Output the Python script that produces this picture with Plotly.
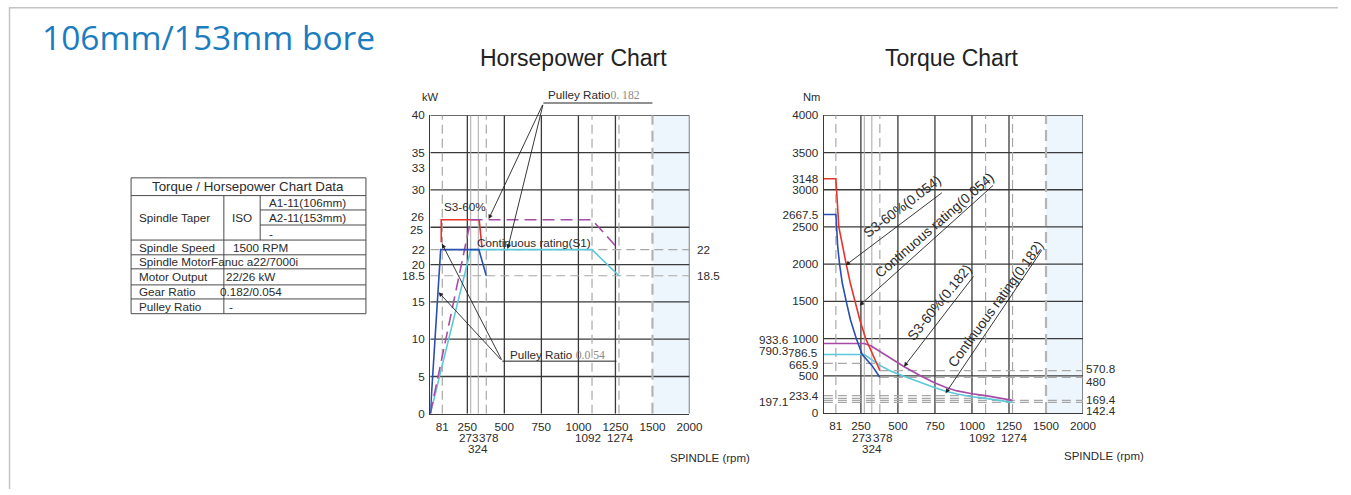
import plotly.graph_objects as go

# Figure fills the window; the page margin is removed after drawing.
FW, FH = 1351, 495
# placement helpers: reference-pixel positions -> paper fractions
# (small calibration so that the photographed page lines up with the reference)
SX, SY, OYI = 0.9897, 0.9706, 7.0

# ---------------- data ----------------
X_TICKS = [81, 250, 500, 750, 1000, 1250, 1500, 1750]
X_TICKTEXT = ["81", "250", "500", "750", "1000", "1250", "1500", "2000"]
X_TICKS_ROW2 = [273, 378, 1092, 1274]
X_TICKS_ROW3 = [324]
X_GRID = [250, 500, 750, 1000, 1250, 1750]
X_REF_SOLID = [273, 324]
X_REF_DASH = [81, 378, 1092, 1274]
X_SHADE = [1500, 1750]
X_MAX = 1750

HP_Y_TICKS = [0, 5, 10, 15, 18.5, 20, 22, 25, 26, 30, 33, 35, 40]
HP_Y_SHIFTED = {25: -2, 26: 3}          # labels nudged apart (drawn as annotations)
HP_Y_GRID = [5, 10, 15, 20, 25, 30, 35, 40]
HP_Y_REF = [18.5, 22]
HP_RIGHT_LABELS = [22, 18.5]
HP_Y_MAX = 40

HP_S3_054_RPM = [74, 74, 330, 349]
HP_S3_054_KW = [23, 26, 26, 22.3]
HP_S1_054_RPM = [0, 70, 328, 378]
HP_S1_054_KW = [0, 22, 22, 18.5]
HP_S3_182_RPM = [0, 273, 1092, 1274]
HP_S3_182_KW = [0, 26, 26, 22]
HP_S1_182_RPM = [0, 273, 1092, 1274]
HP_S1_182_KW = [0, 22, 22, 18.5]

TQ_Y_TICKS = [0, 233.4, 500, 665.9, 786.5, 1000, 1500, 2000, 2500, 2667.5, 3000, 3148, 3500, 4000]
TQ_Y_SHIFTED = {786.5: 2, 665.9: -1}     # labels nudged apart (drawn as annotations)
TQ_Y_GRID = [500, 1000, 1500, 2000, 2500, 3000, 3500, 4000]
TQ_Y_MAX = 4000
TQ_LEFT_EXTRA = [933.6, 790.3, 197.1]
TQ_RIGHT_LABELS = [570.8, 480, 169.4, 142.4]
TQ_REF_VALUES = [665.9, 570.8, 480, 233.4, 197.1, 169.4, 142.4]
TQ_REF_FROM = [0, 378, 378, 0, 0, 0, 0]
TQ_REF_TO = [378, 1750, 1750, 1092, 1092, 1750, 1750]

TQ_S3_054_RPM = [0, 81, 101, 124, 151, 178, 209, 243, 282, 324, 378]
TQ_S3_054_NM = [3148, 3148, 2500, 2250, 2000, 1750, 1500, 1250, 1000, 810, 570.8]
TQ_S1_054_RPM = [0, 81, 86, 93, 106, 124, 151, 180, 219, 259, 324, 378]
TQ_S1_054_NM = [2667.5, 2667.5, 2500, 2250, 2000, 1750, 1500, 1250, 1000, 786.5, 640, 480]
TQ_S3_182_RPM = [0, 273, 320, 400, 484, 540, 640, 743, 829, 900, 1000, 1092, 1274]
TQ_S3_182_NM = [933.6, 933.6, 900, 800, 690, 625, 515, 410, 340, 297, 258, 233.4, 169.4]
TQ_S1_182_RPM = [0, 273, 378, 450, 540, 650, 750, 829, 900, 1000, 1092, 1274]
TQ_S1_182_NM = [786.5, 786.5, 640, 565, 495, 410, 340, 290, 255, 218, 197.1, 142.4]

TABLE_ROWS = [
    ("Spindle Speed", "1500 RPM"),
    ("Spindle MotorFanuc a22/7000i", ""),
    ("Motor Output", "22/26 kW"),
    ("Gear Ratio", "0.182/0.054"),
    ("Pulley Ratio", "-"),
]
TAPER_SUB = ["A1-11(106mm)", "A2-11(153mm)", "-"]

# ---------------- style ----------------
FONT = "Liberation Sans, Arial, sans-serif"
RED = "#e8332a"
BLUE = "#2a4fb0"
MAGENTA = "#a64ca6"
CYAN = "#5cc8d8"
GRID = "#3a3a3a"
REFG = "#a8a8a8"
TXT = "#2b2b2b"
FS = 11.7
ROW2_XSHIFT = [-2, 3, -4, 2]


def px(x):
    return (x / SX) / FW


def py(y):
    return 1 - ((y - OYI) / SY) / FH


def fmt(v):
    return str(int(v)) if float(v).is_integer() else str(v)


fig = go.Figure()


def add_line(x, y, color, xa, ya, dash=None, width=1.6):
    fig.add_trace(go.Scatter(x=x, y=y, mode="lines", xaxis=xa, yaxis=ya,
                             line=dict(color=color, width=width, dash=dash),
                             hoverinfo="skip", showlegend=False))

add_line(HP_S3_054_RPM, HP_S3_054_KW, RED, "x", "y")
add_line(HP_S1_182_RPM, HP_S1_182_KW, CYAN, "x", "y")
add_line(HP_S3_182_RPM, HP_S3_182_KW, MAGENTA, "x", "y", dash="12px,6px")
add_line(HP_S1_054_RPM, HP_S1_054_KW, BLUE, "x", "y")

add_line(TQ_S1_182_RPM, TQ_S1_182_NM, CYAN, "x2", "y2")
add_line(TQ_S3_182_RPM, TQ_S3_182_NM, MAGENTA, "x2", "y2")
add_line(TQ_S3_054_RPM, TQ_S3_054_NM, RED, "x2", "y2")
add_line(TQ_S1_054_RPM, TQ_S1_054_NM, BLUE, "x2", "y2")

shapes = []

# page frame
shapes.append(dict(type="line", xref="paper", yref="paper", x0=px(9), x1=1, y0=1 - 0.8 / FH, y1=1 - 0.8 / FH,
                   line=dict(color="#c4c4c4", width=1.5)))
shapes.append(dict(type="line", xref="paper", yref="paper", x0=px(9.5), x1=px(9.5), y0=1, y1=0,
                   line=dict(color="#c4c4c4", width=1.5)))


def chart_shapes(xr, yr, ygrid, ymax, yrefs):
    s = []
    s.append(dict(type="rect", xref=xr, yref=yr, x0=X_SHADE[0], x1=X_SHADE[1], y0=0, y1=ymax,
                  fillcolor="#eef6fd", line=dict(width=0), layer="below"))
    for v in ygrid:
        s.append(dict(type="line", xref=xr, yref=yr, x0=0, x1=X_MAX, y0=v, y1=v,
                      line=dict(color=GRID, width=1.3), layer="below"))
    for v in X_GRID:
        s.append(dict(type="line", xref=xr, yref=yr, x0=v, x1=v, y0=0, y1=ymax,
                      line=dict(color=GRID, width=1.3), layer="below"))
    for v in X_REF_SOLID:
        s.append(dict(type="line", xref=xr, yref=yr, x0=v, x1=v, y0=0, y1=ymax,
                      line=dict(color=REFG, width=1), layer="below"))
    for v in X_REF_DASH:
        s.append(dict(type="line", xref=xr, yref=yr, x0=v, x1=v, y0=0, y1=ymax,
                      line=dict(color=REFG, width=1.2, dash="9px,5px"), layer="below"))
    s.append(dict(type="line", xref=xr, yref=yr, x0=X_SHADE[0], x1=X_SHADE[0], y0=0, y1=ymax,
                  line=dict(color="#b4b4b4", width=2.2, dash="11px,6px"), layer="below"))
    for v, a, b in yrefs:
        s.append(dict(type="line", xref=xr, yref=yr, x0=a, x1=b, y0=v, y1=v,
                      line=dict(color=REFG, width=1.2, dash="9px,5px"), layer="below"))
    return s

shapes += chart_shapes("x", "y", HP_Y_GRID, HP_Y_MAX, [(v, 0, X_MAX) for v in HP_Y_REF])
shapes += chart_shapes("x2", "y2", TQ_Y_GRID, TQ_Y_MAX,
                       list(zip(TQ_REF_VALUES, TQ_REF_FROM, TQ_REF_TO)))

# pulley ratio underlines
shapes.append(dict(type="line", xref="paper", yref="paper", x0=px(543), x1=px(652), y0=py(102.7), y1=py(102.7),
                   line=dict(color="#222", width=1)))
shapes.append(dict(type="line", xref="paper", yref="paper", x0=px(502), x1=px(616), y0=py(360), y1=py(360),
                   line=dict(color="#222", width=1)))

# ---- table ----
TL, TR, TT, TB = 131, 365.7, 177.3, 312.7
C1, C2 = 223.7, 260
TLINE = dict(color="#4a4a4a", width=1)
shapes.append(dict(type="rect", xref="paper", yref="paper", x0=px(TL), x1=px(TR), y0=py(TT), y1=py(TB), line=TLINE))
for yv in [195, 239.3, 254, 268, 284, 298]:
    shapes.append(dict(type="line", xref="paper", yref="paper", x0=px(TL), x1=px(TR), y0=py(yv), y1=py(yv), line=TLINE))
for yv in [209.3, 224.3]:
    shapes.append(dict(type="line", xref="paper", yref="paper", x0=px(C2), x1=px(TR), y0=py(yv), y1=py(yv), line=TLINE))
shapes.append(dict(type="line", xref="paper", yref="paper", x0=px(C1), x1=px(C1), y0=py(195), y1=py(TB), line=TLINE))
shapes.append(dict(type="line", xref="paper", yref="paper", x0=px(C2), x1=px(C2), y0=py(195), y1=py(239.3), line=TLINE))

ann = []


def txt(x, y, s, size=FS, anchor="left", color=TXT, family=FONT, angle=0):
    ann.append(dict(xref="paper", yref="paper", x=px(x), y=py(y), text=s, showarrow=False,
                    xanchor=anchor, yanchor="middle", textangle=angle,
                    font=dict(family=family, size=size, color=color)))

txt(40, 37, "106mm/153mm bore", size=33.5, color="#1b7dc0", family="Open Sans, Noto Sans, sans-serif")
txt(573, 58, "Horsepower Chart", size=23, anchor="center", color="#222")
txt(951, 58, "Torque Chart", size=23, anchor="center", color="#222")
txt(430, 97, "kW", size=11.2, anchor="center")
txt(811, 97, "Nm", size=11.2, anchor="center")
txt(751, 457, "SPINDLE (rpm)", size=11.5, anchor="right")
txt(1145, 455, "SPINDLE (rpm)", size=11.5, anchor="right")

# table text
txt(248, 186, "Torque / Horsepower Chart Data", size=13.3, anchor="center")
txt(137, 217, "Spindle Taper", size=FS)
txt(242, 217, "ISO", size=FS, anchor="center")
for i, s in enumerate(TAPER_SUB):
    txt(267, 202.3 + 15 * i, s, size=FS)
row_y = [246.7, 261, 276, 291, 305.3]
val_x = [231, 0, 224, 218, 227]
for (lab, val), yv, vx in zip(TABLE_ROWS, row_y, val_x):
    txt(137, yv, lab, size=FS)
    if val:
        txt(vx, yv, val, size=FS)

# HP chart annotations
txt(465, 206, "S3-60%", size=FS, anchor="center")
txt(475, 242, "Continuous rating(S1)", size=FS)
txt(546, 95, "Pulley Ratio<span style='font-family:Liberation Serif, serif;color:#8a8a8a'>0. 182</span>", size=FS)
txt(508, 354, "Pulley Ratio <span style='font-family:Liberation Serif, serif;color:#8a8a8a'>0.0 54</span>", size=FS)

for v in HP_RIGHT_LABELS:
    ann.append(dict(xref="paper", yref="y", x=px(695), y=v, text=fmt(v), showarrow=False,
                    xanchor="left", yanchor="middle", font=dict(family=FONT, size=FS, color=TXT)))

# nudged left tick labels
for v, sh in HP_Y_SHIFTED.items():
    ann.append(dict(xref="paper", yref="y", x=px(426), y=v, yshift=sh, text=fmt(v), showarrow=False,
                    xanchor="right", yanchor="middle", font=dict(family=FONT, size=FS, color=TXT)))
for v, sh in TQ_Y_SHIFTED.items():
    ann.append(dict(xref="paper", yref="y2", x=px(819.5), y=v, yshift=sh, text=fmt(v), showarrow=False,
                    xanchor="right", yanchor="middle", font=dict(family=FONT, size=FS, color=TXT)))

RIGHT_SHIFT = [2, -4, 1, -8]
for v, sh in zip(TQ_RIGHT_LABELS, RIGHT_SHIFT):
    ann.append(dict(xref="paper", yref="y2", x=px(1083), y=v, yshift=sh, text=fmt(v), showarrow=False,
                    xanchor="left", yanchor="middle", font=dict(family=FONT, size=FS, color=TXT)))
LEFT_SHIFT = [4, 4, -3]
for v, sh in zip(TQ_LEFT_EXTRA, LEFT_SHIFT):
    ann.append(dict(xref="paper", yref="y2", x=px(789), y=v, yshift=sh, text=fmt(v), showarrow=False,
                    xanchor="right", yanchor="middle", font=dict(family=FONT, size=FS, color=TXT)))

# second / third rows of x tick labels, placed on the x scales
for xa in ["x", "x2"]:
    for v, xs in zip(X_TICKS_ROW2, ROW2_XSHIFT):
        ann.append(dict(xref=xa, yref="paper", x=v, y=py(436), xshift=xs, text=fmt(v), showarrow=False,
                        xanchor="center", yanchor="middle", font=dict(family=FONT, size=FS, color=TXT)))
    for v in X_TICKS_ROW3:
        ann.append(dict(xref=xa, yref="paper", x=v, y=py(447), text=fmt(v), showarrow=False,
                        xanchor="center", yanchor="middle", font=dict(family=FONT, size=FS, color=TXT)))


def arrow(xa, ya, hx, hy, tx, ty):
    ann.append(dict(xref=xa, yref=ya, x=hx, y=hy, axref=xa, ayref=ya, ax=tx, ay=ty, text="",
                    showarrow=True, arrowhead=2, arrowsize=1, arrowwidth=0.9, arrowcolor="#222",
                    standoff=0, startstandoff=0))

arrow("x", "y", 394, 26.1, 763, 41.6)
arrow("x", "y", 522, 22.1, 763, 41.6)
arrow("x", "y", 56, 16.3, 486, 7.06)
arrow("x", "y", 79, 22.8, 486, 7.06)
arrow("x2", "y2", 147, 1985, 807, 2975)
arrow("x2", "y2", 241, 1445, 1153, 3077)
arrow("x2", "y2", 541, 623, 1018, 1856)
arrow("x2", "y2", 822, 266, 1478, 2207)

ROT_LABELS = ["S3-60%(0.054)", "Continuous rating(0.054)", "S3-60%(0.182)", "Continuous rating(0.182)"]
ROT_RPM = [532, 748, 781, 1159]
ROT_NM = [2773, 2517, 1488, 1461]
ROT_ANGLE = [-37, -41, -51, -54]
for s, xv, yv, a in zip(ROT_LABELS, ROT_RPM, ROT_NM, ROT_ANGLE):
    ann.append(dict(xref="x2", yref="y2", x=xv, y=yv, text=s, showarrow=False, textangle=a,
                    xanchor="center", yanchor="middle", font=dict(family=FONT, size=13.8, color=TXT)))

# ---- axes ----
TICKFONT = dict(family=FONT, size=FS, color=TXT)


def xaxis_main(domain, anchor):
    return dict(domain=domain, anchor=anchor, range=[0, X_MAX], tickmode="array", tickvals=X_TICKS,
                ticktext=X_TICKTEXT, tickangle=0, showgrid=False, zeroline=False, showline=True,
                linecolor=GRID, linewidth=1.3, ticks="", tickfont=TICKFONT, fixedrange=True,
                ticklabelstandoff=2)


def yaxis_main(domain, anchor, rng, vals, hidden=()):
    return dict(domain=domain, anchor=anchor, range=rng, tickmode="array", tickvals=vals,
                ticktext=["" if v in hidden else fmt(v) for v in vals], showgrid=False,
                zeroline=False, showline=True, linecolor=GRID, linewidth=1.3, ticks="",
                tickfont=TICKFONT, fixedrange=True, ticklabelstandoff=2)

HP_XD = [px(430), px(689)]
HP_YD = [py(412.5), py(115)]
TQ_XD = [px(823.3), px(1082.3)]
TQ_YD = [py(411.7), py(115)]

fig.update_layout(
    width=FW, height=FH, autosize=False,
    margin=dict(l=0, r=0, t=0, b=0),
    paper_bgcolor="white", plot_bgcolor="white",
    xaxis=xaxis_main(HP_XD, "y"),
    yaxis=yaxis_main(HP_YD, "x", [0, HP_Y_MAX], HP_Y_TICKS, hidden=tuple(HP_Y_SHIFTED)),
    xaxis2=xaxis_main(TQ_XD, "y2"),
    yaxis2=yaxis_main(TQ_YD, "x2", [0, TQ_Y_MAX], TQ_Y_TICKS, hidden=tuple(TQ_Y_SHIFTED)),
    shapes=shapes,
    annotations=ann,
    showlegend=False,
)

fig.write_html("out.html", config={"displayModeBar": False},
               post_script="document.body.style.margin='0';")
